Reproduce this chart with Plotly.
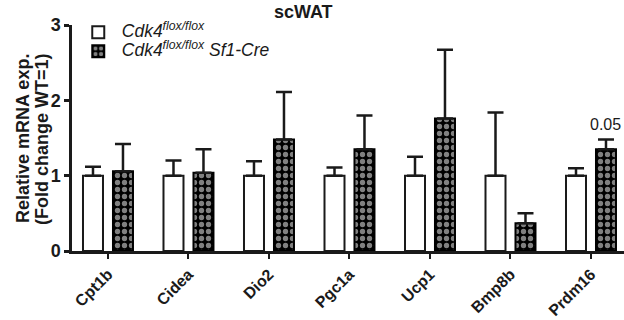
import plotly.graph_objects as go

genes = ["Cpt1b", "Cidea", "Dio2", "Pgc1a", "Ucp1", "Bmp8b", "Prdm16"]
wt_mean = [1.0, 1.0, 1.0, 1.0, 1.0, 1.0, 1.0]
wt_err = [0.12, 0.20, 0.19, 0.11, 0.25, 0.84, 0.10]
ko_mean = [1.06, 1.04, 1.48, 1.35, 1.76, 0.37, 1.35]
ko_err = [0.36, 0.31, 0.63, 0.45, 0.91, 0.13, 0.13]
y_ticks = [0, 1, 2, 3]
pval_text = "0.05"
pval_gene = "Prdm16"
y_title_lines = ["Relative mRNA exp.", "(Fold change WT=1)"]
series_names = ["<i>Cdk4<sup>flox/flox</sup></i>", "<i>Cdk4<sup>flox/flox</sup> Sf1-Cre</i>"]

FONT = "Liberation Sans, Arial, sans-serif"
INK = "#1a1a1a"


def big(t):
    return '<span style="font-size:17.5px">%s</span>' % t


fig = go.Figure()
fig.add_trace(go.Bar(
    x=genes, y=wt_mean, name=big(series_names[0]),
    marker=dict(color="white", line=dict(color=INK, width=2)),
    error_y=dict(type="data", array=wt_err, arrayminus=[0]*len(wt_err), symmetric=False,
                 color=INK, thickness=2.5, width=8),
))
fig.add_trace(go.Bar(
    x=genes, y=ko_mean, name=big(series_names[1]),
    marker=dict(color="black", line=dict(color="black", width=2),
                pattern=dict(shape=".", fgcolor="white", bgcolor="black", size=7, solidity=0.45)),
    error_y=dict(type="data", array=ko_err, arrayminus=[0]*len(ko_err), symmetric=False,
                 color=INK, thickness=2.5, width=8),
))

idx = genes.index(pval_gene)
fig.add_annotation(x=pval_gene, y=ko_mean[idx] + ko_err[idx], text=pval_text,
                   showarrow=False, xshift=15, yshift=5, yanchor="bottom", xanchor="center",
                   font=dict(family=FONT, size=16, color=INK))

# two-line y-axis title
for line, xs in zip(y_title_lines, [-49, -30]):
    fig.add_annotation(xref="paper", yref="paper", x=0, y=0.5, xshift=xs, yshift=-1,
                       text="<b>%s</b>" % line, textangle=-90, showarrow=False,
                       xanchor="center", yanchor="middle",
                       font=dict(family=FONT, size=18, color=INK))

fig.update_layout(
    width=624, height=320,
    margin=dict(l=72, r=0, t=25, b=69, autoexpand=False),
    paper_bgcolor="white", plot_bgcolor="white",
    barmode="group", bargap=0.255, bargroupgap=0.333,
    font=dict(family=FONT, color=INK),
    title=dict(text="<b>scWAT</b>", x=0.486, xref="container", xanchor="center",
               y=0.962, yref="container", yanchor="middle",
               font=dict(family=FONT, size=18, color=INK)),
    legend=dict(x=0.005, y=1.032, xanchor="left", yanchor="top",
                bgcolor="rgba(0,0,0,0)", font=dict(family=FONT, size=12, color=INK),
                tracegroupgap=0, itemwidth=37),
    showlegend=True,
)
fig.update_xaxes(
    range=[-0.447, 6.41], showline=True, linecolor=INK, linewidth=2.5,
    ticks="outside", ticklen=5, tickwidth=2, tickcolor=INK,
    tickangle=-45, tickfont=dict(family=FONT, size=16, weight="bold", color=INK),
    showgrid=False, zeroline=False, automargin=False,
)
fig.update_yaxes(
    range=[0, 3], tickvals=y_ticks, showline=True, linecolor=INK, linewidth=2.5,
    ticks="outside", ticklen=5, tickwidth=2.5, tickcolor=INK,
    tickfont=dict(family=FONT, size=18, weight="bold", color=INK),
    showgrid=False, zeroline=False, automargin=False,
)

fig.write_html("out.html", config={"displayModeBar": False},
               post_script="document.body.style.margin='0';document.body.style.overflow='hidden';")
